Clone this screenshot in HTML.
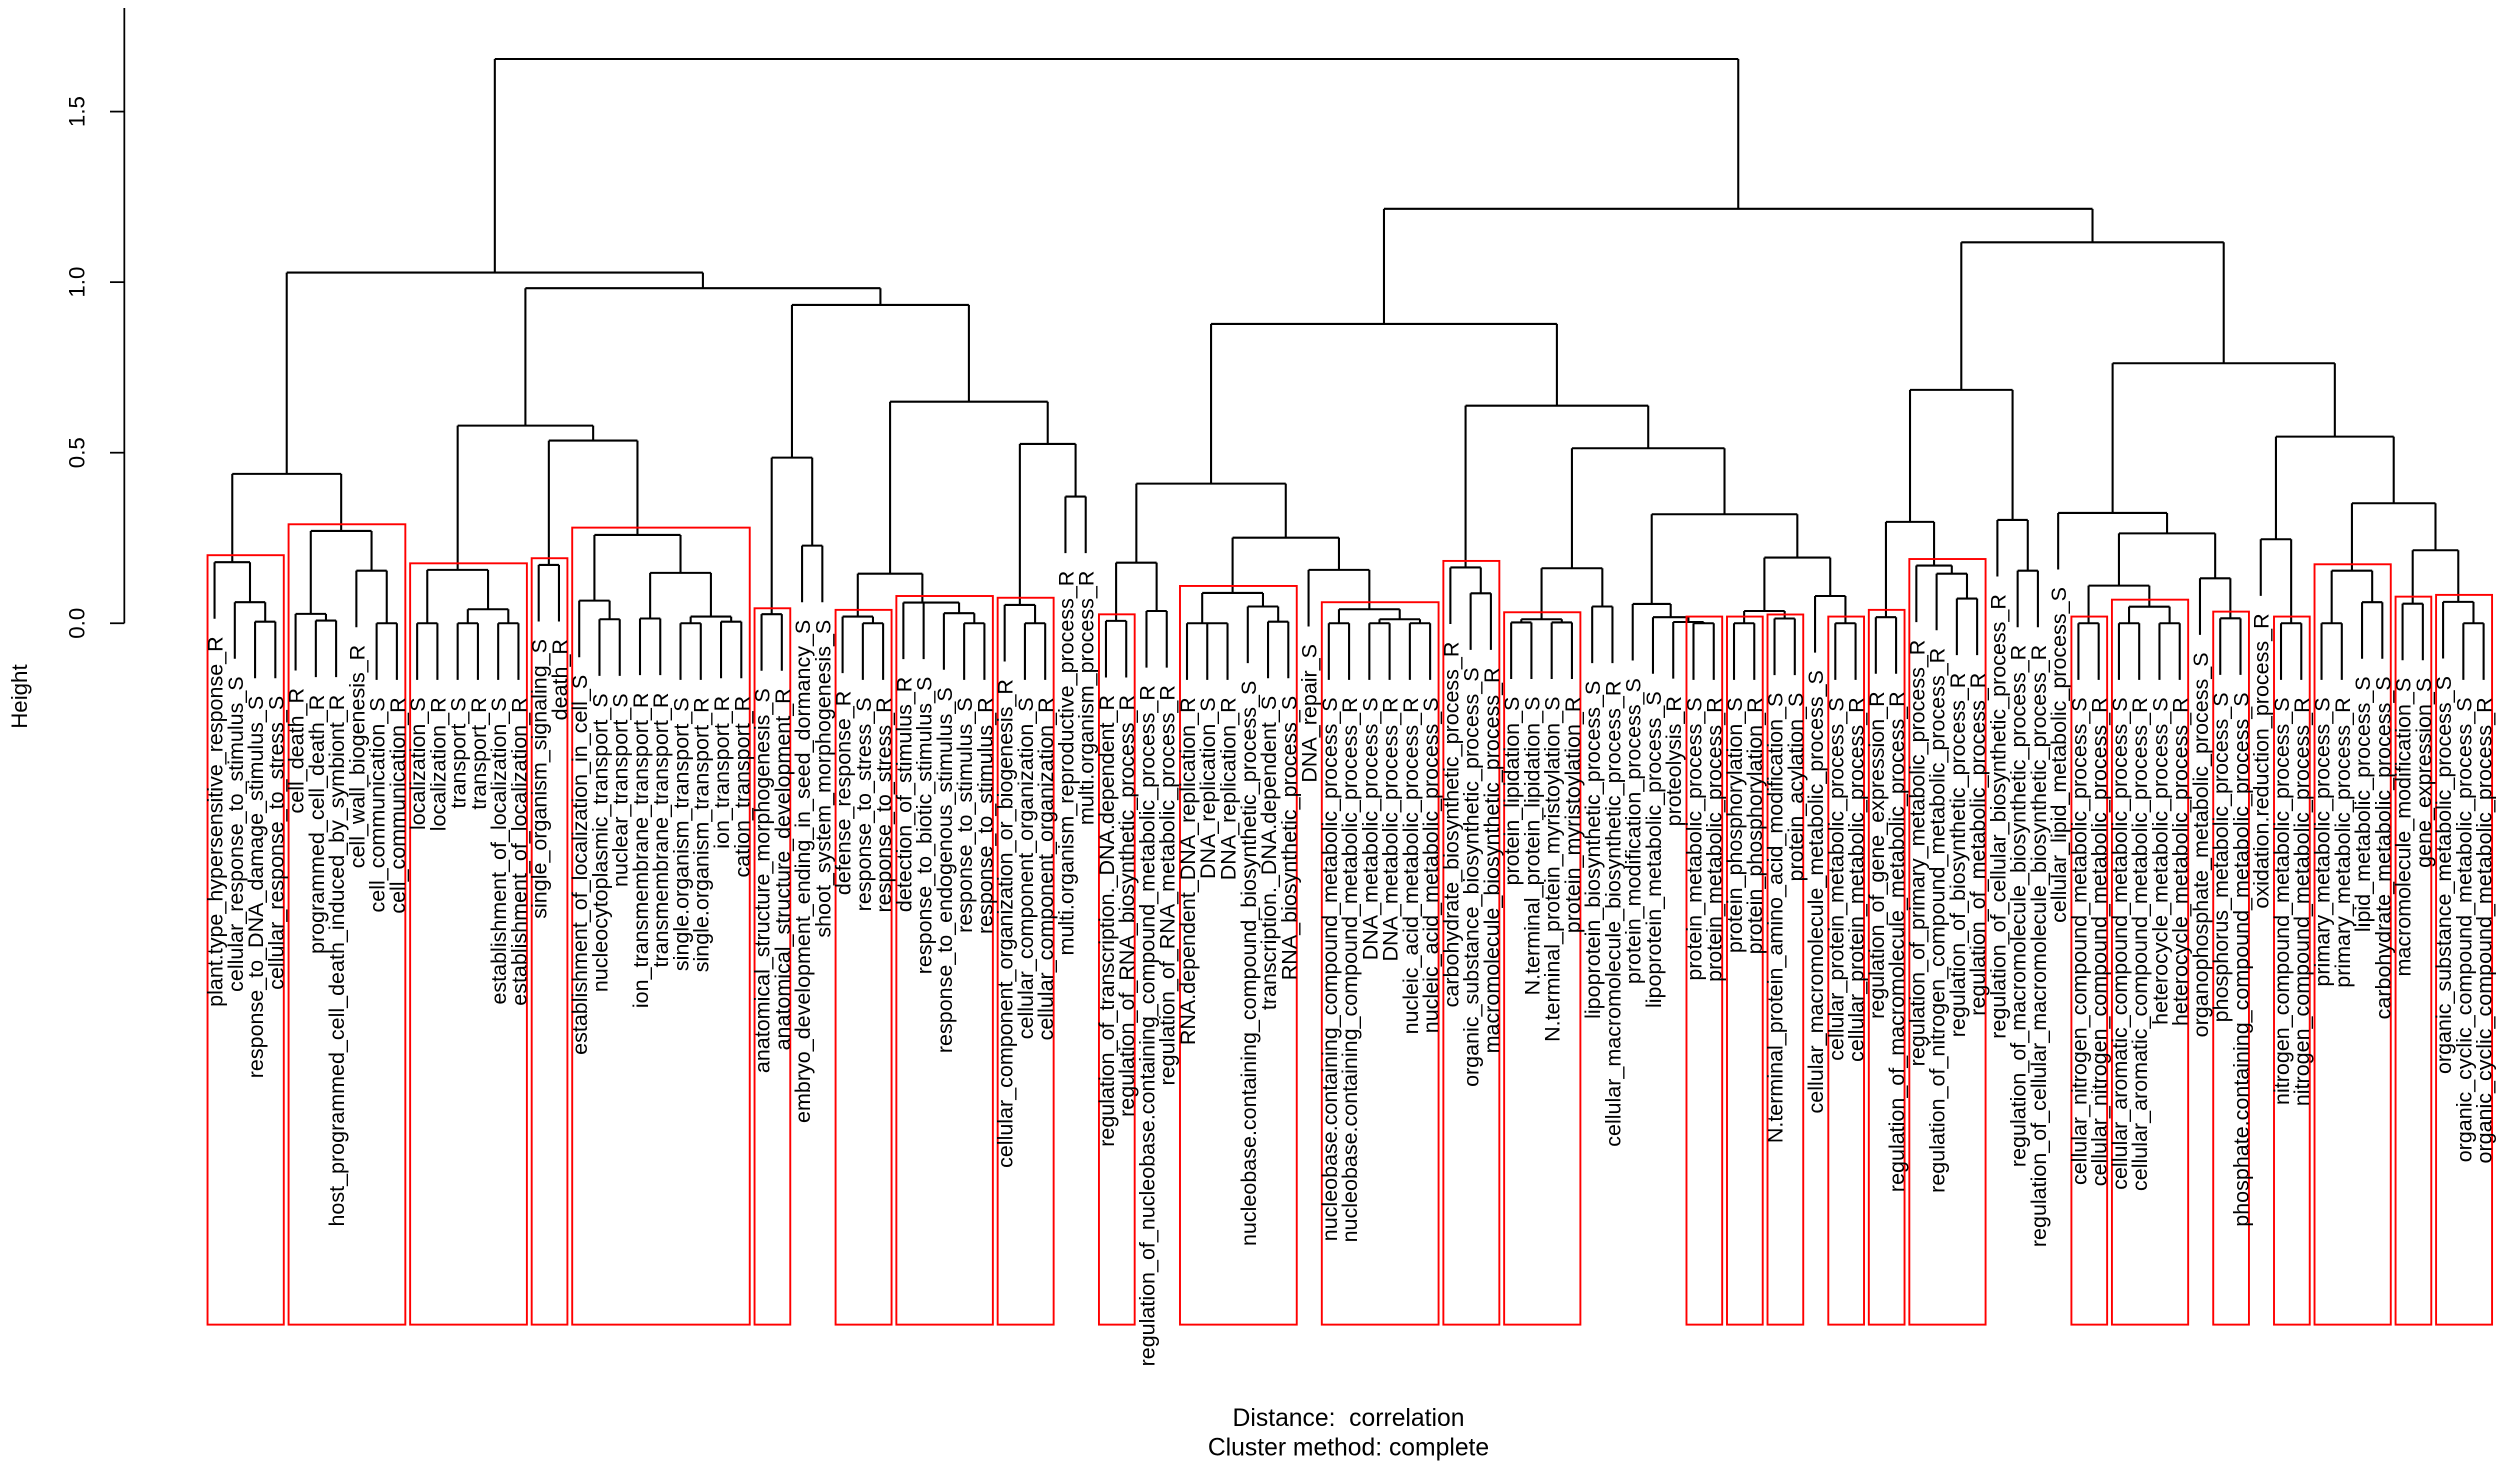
<!DOCTYPE html>
<html><head><meta charset="utf-8"><style>
html,body{margin:0;padding:0;background:#fff;}
svg{display:block;}
text{font-family:"Liberation Sans",Arial,sans-serif;fill:#000;}
</style></head><body>
<svg id="s" width="2500" height="1470" viewBox="0 0 1568.4 922.2" preserveAspectRatio="none" xmlns="http://www.w3.org/2000/svg">
<rect x="0" y="0" width="1568.4" height="922.2" fill="#fff"/>
<g stroke="#000" stroke-width="1.1" fill="none">
<line x1="78" y1="5" x2="78" y2="391"/>
<line x1="69" y1="391" x2="78" y2="391"/>
<line x1="69" y1="284" x2="78" y2="284"/>
<line x1="69" y1="177" x2="78" y2="177"/>
<line x1="69" y1="70" x2="78" y2="70"/>
</g>
<g font-size="14" text-anchor="middle">
<text transform="translate(53,391) rotate(-90)">0.0</text>
<text transform="translate(53,284) rotate(-90)">0.5</text>
<text transform="translate(53,177) rotate(-90)">1.0</text>
<text transform="translate(53,70) rotate(-90)">1.5</text>
<text transform="translate(17,437) rotate(-90)">Height</text>
</g>
<g font-size="15.5" text-anchor="middle">
<text x="846" y="894.5">Distance:&#160; correlation</text>
<text x="846" y="913">Cluster method: complete</text>
</g>
<g id="tree" stroke="#000" stroke-width="1.3" fill="none"></g>
<g id="boxes" stroke="#ff0000" stroke-width="1.2" fill="none"></g>
<g id="labels" font-size="13.5" text-anchor="end">
<text>plant.type_hypersensitive_response_R</text>
<text>cellular_response_to_stimulus_S</text>
<text>response_to_DNA_damage_stimulus_S</text>
<text>cellular_response_to_stress_S</text>
<text>cell_death_R</text>
<text>programmed_cell_death_R</text>
<text>host_programmed_cell_death_induced_by_symbiont_R</text>
<text>cell_wall_biogenesis_R</text>
<text>cell_communication_S</text>
<text>cell_communication_R</text>
<text>localization_S</text>
<text>localization_R</text>
<text>transport_S</text>
<text>transport_R</text>
<text>establishment_of_localization_S</text>
<text>establishment_of_localization_R</text>
<text>single_organism_signaling_S</text>
<text>death_R</text>
<text>establishment_of_localization_in_cell_S</text>
<text>nucleocytoplasmic_transport_S</text>
<text>nuclear_transport_S</text>
<text>ion_transmembrane_transport_R</text>
<text>transmembrane_transport_R</text>
<text>single.organism_transport_S</text>
<text>single.organism_transport_R</text>
<text>ion_transport_R</text>
<text>cation_transport_R</text>
<text>anatomical_structure_morphogenesis_S</text>
<text>anatomical_structure_development_R</text>
<text>embryo_development_ending_in_seed_dormancy_S</text>
<text>shoot_system_morphogenesis_S</text>
<text>defense_response_R</text>
<text>response_to_stress_S</text>
<text>response_to_stress_R</text>
<text>detection_of_stimulus_R</text>
<text>response_to_biotic_stimulus_S</text>
<text>response_to_endogenous_stimulus_S</text>
<text>response_to_stimulus_S</text>
<text>response_to_stimulus_R</text>
<text>cellular_component_organization_or_biogenesis_R</text>
<text>cellular_component_organization_S</text>
<text>cellular_component_organization_R</text>
<text>multi.organism_reproductive_process_R</text>
<text>multi.organism_process_R</text>
<text>regulation_of_transcription._DNA.dependent_R</text>
<text>regulation_of_RNA_biosynthetic_process_R</text>
<text>regulation_of_nucleobase.containing_compound_metabolic_process_R</text>
<text>regulation_of_RNA_metabolic_process_R</text>
<text>RNA.dependent_DNA_replication_R</text>
<text>DNA_replication_S</text>
<text>DNA_replication_R</text>
<text>nucleobase.containing_compound_biosynthetic_process_S</text>
<text>transcription._DNA.dependent_S</text>
<text>RNA_biosynthetic_process_S</text>
<text>DNA_repair_S</text>
<text>nucleobase.containing_compound_metabolic_process_S</text>
<text>nucleobase.containing_compound_metabolic_process_R</text>
<text>DNA_metabolic_process_S</text>
<text>DNA_metabolic_process_R</text>
<text>nucleic_acid_metabolic_process_R</text>
<text>nucleic_acid_metabolic_process_S</text>
<text>carbohydrate_biosynthetic_process_R</text>
<text>organic_substance_biosynthetic_process_S</text>
<text>macromolecule_biosynthetic_process_R</text>
<text>protein_lipidation_S</text>
<text>N.terminal_protein_lipidation_S</text>
<text>N.terminal_protein_myristoylation_S</text>
<text>protein_myristoylation_R</text>
<text>lipoprotein_biosynthetic_process_S</text>
<text>cellular_macromolecule_biosynthetic_process_R</text>
<text>protein_modification_process_S</text>
<text>lipoprotein_metabolic_process_S</text>
<text>proteolysis_R</text>
<text>protein_metabolic_process_S</text>
<text>protein_metabolic_process_R</text>
<text>protein_phosphorylation_S</text>
<text>protein_phosphorylation_R</text>
<text>N.terminal_protein_amino_acid_modification_S</text>
<text>protein_acylation_S</text>
<text>cellular_macromolecule_metabolic_process_S</text>
<text>cellular_protein_metabolic_process_S</text>
<text>cellular_protein_metabolic_process_R</text>
<text>regulation_of_gene_expression_R</text>
<text>regulation_of_macromolecule_metabolic_process_R</text>
<text>regulation_of_primary_metabolic_process_R</text>
<text>regulation_of_nitrogen_compound_metabolic_process_R</text>
<text>regulation_of_biosynthetic_process_R</text>
<text>regulation_of_metabolic_process_R</text>
<text>regulation_of_cellular_biosynthetic_process_R</text>
<text>regulation_of_macromolecule_biosynthetic_process_R</text>
<text>regulation_of_cellular_macromolecule_biosynthetic_process_R</text>
<text>cellular_lipid_metabolic_process_S</text>
<text>cellular_nitrogen_compound_metabolic_process_S</text>
<text>cellular_nitrogen_compound_metabolic_process_R</text>
<text>cellular_aromatic_compound_metabolic_process_S</text>
<text>cellular_aromatic_compound_metabolic_process_R</text>
<text>heterocycle_metabolic_process_S</text>
<text>heterocycle_metabolic_process_R</text>
<text>organophosphate_metabolic_process_S</text>
<text>phosphorus_metabolic_process_S</text>
<text>phosphate.containing_compound_metabolic_process_S</text>
<text>oxidation.reduction_process_R</text>
<text>nitrogen_compound_metabolic_process_S</text>
<text>nitrogen_compound_metabolic_process_R</text>
<text>primary_metabolic_process_S</text>
<text>primary_metabolic_process_R</text>
<text>lipid_metabolic_process_S</text>
<text>carbohydrate_metabolic_process_S</text>
<text>macromolecule_modification_S</text>
<text>gene_expression_S</text>
<text>organic_substance_metabolic_process_S</text>
<text>organic_cyclic_compound_metabolic_process_S</text>
<text>organic_cyclic_compound_metabolic_process_R</text>
</g>
</svg>
<script>
(function(){
var NS="http://www.w3.org/2000/svg";
var L0=134.6,DX=12.71,HANG=35.5;
function X(i){return L0+(i-1)*DX;}
var tree=document.getElementById("tree");
var labels=document.getElementById("labels").getElementsByTagName("text");
var d="";
function seg(x1,y1,x2,y2){d+="M"+x1.toFixed(2)+" "+y1.toFixed(2)+"L"+x2.toFixed(2)+" "+y2.toFixed(2);}
function draw(n,py){
 if(typeof n==="number"){
  var x=X(n); var b=py+HANG; seg(x,py,x,b);
  var t=labels[n-1]; if(t) t.setAttribute("transform","translate("+(x+5).toFixed(2)+","+(b+11).toFixed(2)+") rotate(-90)");
  return x;
 }
 var y=n[2];
 var xa=draw(n[0],y), xb=draw(n[1],y);
 seg(xa,y,xb,y);
 var c=(xa+xb)/2;
 if(py!==null) seg(c,py,c,y);
 return c;
}
var A=[1,[2,[3,4,390],377.8],352.7];
var B=[[5,[6,7,389.3],385.1],[8,[9,10,391],358],333.1];
var AB=[A,B,297.3];
var C11=[[11,12,391],[[13,14,391],[15,16,391],382.2],357.5];
var C17=[17,18,354.4];
var D=[[19,[20,21,388.5],376.8],[[22,23,388],[[24,25,391],[26,27,390],386.8],359.4],335.6];
var E=[C11,[C17,D,276.4],267];
var F28=[[28,29,385.3],[30,31,342.3],287.1];
var G32=[[32,[33,34,391],386.8],[35,[36,[37,[38,39,391],384.7],378],378],359.9];
var R=[[40,[41,42,391],379.5],[43,44,311.5],278.5];
var H=[G32,R,252];
var I=[F28,H,191.3];
var J=[E,I,180.8];
var K=[AB,J,171];
var M45=[[45,46,389.5],[47,48,383.3],353];
var N49=[[49,[50,51,391],391],[52,[53,54,390],380.5],372];
var O55=[55,[[56,57,391],[[58,59,391],[60,61,391],388.5],382.2],357.5];
var P=[N49,O55,337.3];
var Q=[M45,P,303.4];
var U62=[62,[63,64,372.2],356];
var V65=[[[65,66,390.5],[67,68,390.5],388.5],[69,70,380.5],356.5];
var W71=[71,[72,[73,[74,75,391],390.2],387.2],378.9];
var X76=[[[76,77,391],[78,79,388],383.3],[80,[81,82,391],373.9],349.8];
var Y71=[W71,X76,322.6];
var Z65=[V65,Y71,281.2];
var T=[U62,Z65,254.5];
var S=[Q,T,203.2];
var AA83=[[83,84,387.2],[85,[86,[87,88,375.5],359.9],354.8],327.4];
var AB89=[89,[90,91,358],326.2];
var AC=[AA83,AB89,244.6];
var AD93=[[93,94,391],[[95,96,391],[97,98,391],380.6],367.4];
var AE99=[99,[100,101,387.9],362.8];
var AF=[AD93,AE99,334.6];
var AG=[92,AF,321.8];
var AH=[102,[103,104,391],338.3];
var AI=[[105,106,391],[107,108,377.8],358];
var AJ=[[109,110,378.7],[111,[112,113,391],377.6],345.2];
var AK=[AI,AJ,315.7];
var AL=[AH,AK,273.9];
var AM=[AG,AL,227.9];
var AN=[AC,AM,152];
var AO=[S,AN,131];
var ROOT=[K,AO,37];
draw(ROOT,null);
var p=document.createElementNS(NS,"path");p.setAttribute("d",d);tree.appendChild(p);
var boxes=[[1,4,348.3],[5,10,328.9],[11,16,353.4],[17,18,350.2],[19,27,331],[28,29,381.6],[32,34,382.6],[35,39,373.9],[40,42,375],[45,46,385.4],[49,54,367.6],[56,61,377.8],[62,64,351.9],[65,68,384.1],[74,75,386.8],[76,77,386.8],[78,79,385.5],[81,82,386.8],[83,84,382.6],[85,88,350.7],[93,94,386.8],[95,98,376.2],[100,101,383.7],[103,104,386.8],[105,108,354],[109,110,374.3],[111,113,373.2]];
var bg=document.getElementById("boxes");
var BOT=831;
boxes.forEach(function(b){
 var r=document.createElementNS(NS,"rect");
 var x=X(b[0])-4.4, w=X(b[1])-X(b[0])+9.7;
 r.setAttribute("x",x.toFixed(2));r.setAttribute("y",b[2]);
 r.setAttribute("width",w.toFixed(2));r.setAttribute("height",(BOT-b[2]).toFixed(2));
 bg.appendChild(r);
});
})();
</script>
</body></html>
